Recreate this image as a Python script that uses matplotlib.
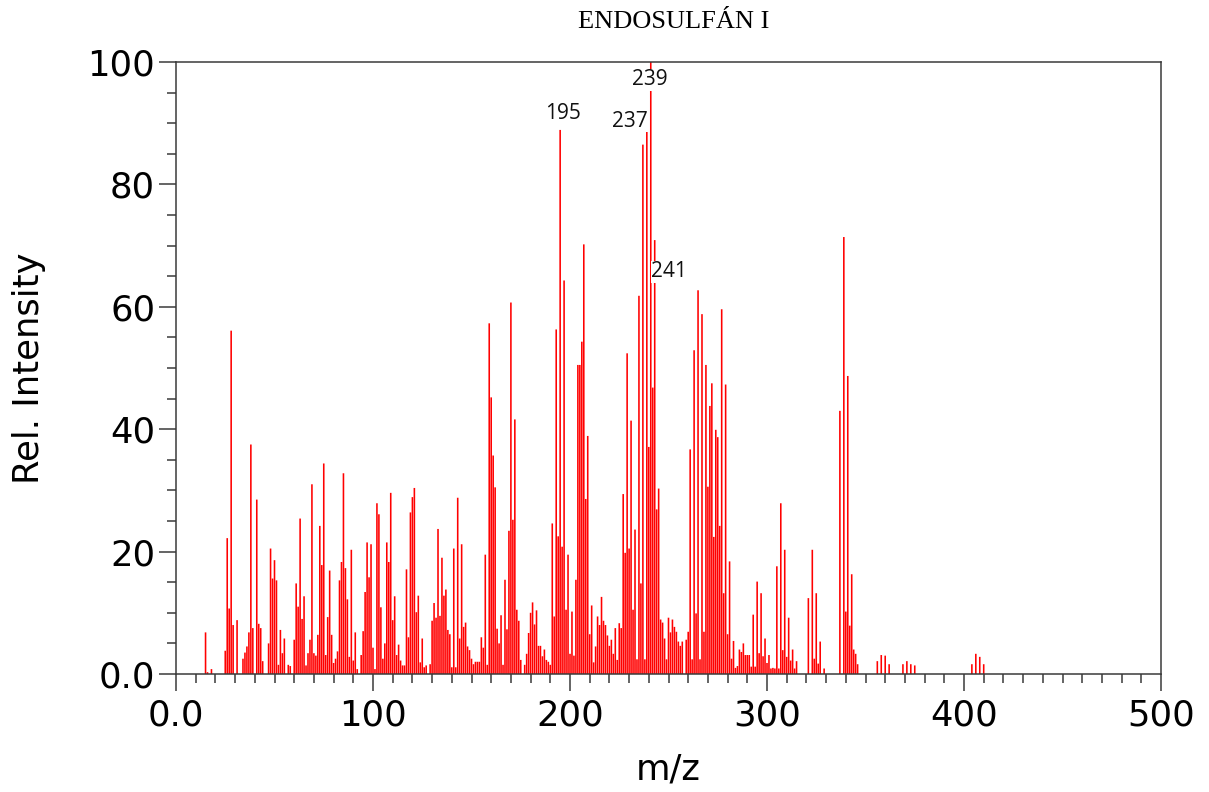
import matplotlib
matplotlib.use("Agg")
import matplotlib.pyplot as plt
from matplotlib.ticker import MultipleLocator

# spectrum (m/z, relative intensity)
mz = [15, 16, 18, 25, 26, 27, 28, 29, 31, 34, 35, 36, 37, 38, 39, 41, 42, 43, 44,
      47, 48, 49, 50, 51, 52, 53, 54, 55, 57, 58, 60, 61, 62, 63, 64, 65, 66, 67,
      68, 69, 70, 71, 72, 73, 74, 75, 76, 77, 78, 79, 80, 81, 82, 83, 84, 85, 86,
      87, 88, 89, 90, 91, 92, 94, 95, 96, 97, 98, 99, 100, 101, 102, 103, 104,
      105, 106, 107, 108, 109, 110, 111, 112, 113, 114, 115, 116, 117, 118, 119,
      120, 121, 122, 123, 124, 125, 126, 127, 129, 130, 131, 132, 133, 134, 135,
      136, 137, 138, 139, 140, 141, 142, 143, 144, 145, 146, 147, 148, 149, 150,
      151, 152, 153, 154, 155, 156, 157, 158, 159, 160, 161, 162, 163, 164, 165,
      166, 167, 168, 169, 170, 171, 172, 173, 174, 175, 177, 178, 179, 180, 181,
      182, 183, 184, 185, 186, 187, 188, 189, 190, 191, 192, 193, 194, 195, 196,
      197, 198, 199, 200, 201, 202, 203, 204, 205, 206, 207, 208, 209, 210, 211,
      212, 213, 214, 215, 216, 217, 218, 219, 220, 221, 222, 223, 224, 225, 226,
      227, 228, 229, 230, 231, 232, 233, 234, 235, 236, 237, 238, 239, 240, 241,
      242, 243, 244, 245, 246, 247, 248, 249, 250, 251, 252, 253, 254, 255, 256,
      257, 259, 260, 261, 262, 263, 264, 265, 266, 267, 268, 269, 270, 271, 272,
      273, 274, 275, 276, 277, 278, 279, 280, 281, 282, 283, 284, 285, 286, 287,
      288, 289, 290, 291, 292, 293, 294, 295, 296, 297, 298, 299, 300, 301, 302,
      303, 304, 305, 306, 307, 308, 309, 310, 311, 312, 313, 314, 315, 321, 323,
      324, 325, 326, 327, 329, 337, 339, 340, 341, 342, 343, 344, 345, 346, 356,
      358, 360, 362, 369, 371, 373, 375, 404, 406, 408, 410]

intensity = [6.8, 0.3, 0.8, 3.8, 22.2, 10.7, 56.1, 8.0, 8.8, 2.5, 3.5, 4.5, 6.8,
             37.5, 7.5, 28.5, 8.2, 7.5, 2.1, 5.0, 20.5, 15.6, 18.6, 15.3, 1.5, 7.2,
             3.4, 5.8, 1.5, 1.3, 5.6, 14.8, 11.0, 25.4, 9.0, 12.7, 1.4, 3.4, 5.6,
             31.0, 3.4, 3.0, 6.4, 24.2, 17.8, 34.4, 3.1, 9.3, 16.9, 6.4, 1.8, 2.5,
             3.7, 15.3, 18.3, 32.8, 17.3, 12.2, 2.8, 20.3, 2.2, 6.8, 0.8, 3.1, 7.0,
             13.4, 21.5, 15.8, 21.2, 4.3, 0.8, 27.9, 26.1, 10.9, 2.5, 5.0, 21.5,
             18.3, 29.6, 8.8, 12.7, 3.1, 4.8, 2.2, 1.4, 1.4, 17.1, 6.0, 26.4, 28.9,
             30.4, 10.1, 12.8, 1.9, 5.8, 1.1, 1.4, 1.6, 8.7, 11.6, 9.2, 23.7, 9.5,
             19.0, 12.8, 13.8, 7.2, 6.5, 1.1, 20.5, 1.1, 28.8, 5.8, 21.2, 7.7, 8.4,
             4.5, 3.9, 2.5, 1.6, 2.0, 2.0, 2.0, 6.0, 4.3, 19.5, 1.5, 57.3, 45.2,
             35.7, 30.5, 7.4, 5.0, 9.6, 1.5, 15.4, 7.3, 23.4, 60.7, 25.2, 41.6,
             10.5, 8.7, 2.3, 1.5, 3.3, 6.7, 10.0, 11.7, 8.1, 10.4, 4.6, 4.6, 2.9,
             4.0, 2.3, 2.0, 1.5, 24.6, 9.4, 56.3, 22.5, 88.9, 20.8, 64.3, 10.5,
             19.5, 3.3, 10.2, 3.0, 15.4, 50.5, 50.5, 54.3, 70.2, 28.6, 38.9, 6.5,
             11.2, 1.9, 4.5, 9.4, 8.0, 12.6, 8.7, 8.0, 6.3, 4.6, 5.6, 3.3, 7.5,
             2.3, 8.3, 7.5, 29.4, 19.8, 52.4, 20.5, 41.4, 10.5, 23.6, 2.4, 61.8,
             14.8, 86.5, 2.4, 88.7, 37.1, 100.0, 46.8, 70.9, 26.9, 30.3, 8.9, 8.4,
             5.8, 2.4, 9.2, 6.8, 8.9, 7.7, 6.9, 5.3, 4.6, 5.3, 5.6, 6.9, 36.7, 2.4,
             52.9, 9.9, 62.7, 2.4, 58.8, 6.9, 50.5, 30.6, 43.8, 47.5, 22.4, 39.9,
             38.7, 24.2, 59.6, 13.2, 47.3, 6.5, 18.4, 2.5, 5.4, 1.0, 1.3, 4.0, 3.6,
             5.0, 3.1, 3.1, 3.1, 1.2, 9.7, 1.2, 15.1, 3.4, 13.2, 2.9, 5.8, 1.8,
             3.1, 0.9, 1.0, 0.9, 17.6, 0.9, 27.9, 3.9, 20.3, 2.8, 9.2, 2.2, 4.0,
             0.9, 2.1, 12.4, 20.3, 2.5, 13.2, 1.7, 5.3, 0.9, 43.0, 71.4, 10.2, 48.7,
             7.9, 16.3, 4.0, 3.3, 1.6, 2.1, 3.1, 3.0, 1.6, 1.6, 2.1, 1.6, 1.4, 1.6,
             3.3, 2.8, 1.6]

peak_labels = ["195", "237", "239", "241"]

x_ticks = [0, 100, 200, 300, 400, 500]
x_ticklabels = ["0.0", "100", "200", "300", "400", "500"]
y_ticks = [0, 20, 40, 60, 80, 100]
y_ticklabels = ["0.0", "20", "40", "60", "80", "100"]

title = "ENDOSULFÁN I"

W, H = 1209, 792
fig = plt.figure(figsize=(W / 100, H / 100), dpi=100)
ax = fig.add_axes([176 / W, 1 - 674 / H, (1161 - 176) / W, (674 - 62) / H])

# stick spectrum, left unsnapped so the sticks get soft edges like the original
sticks = ax.vlines(mz, 0, intensity, colors="#ff0000", linewidth=1.15, zorder=2)
sticks.set_snap(False)

ax.set_xlim(0, 500)
ax.set_ylim(0, 100)

# labels sit where the original software put them
label_pos = [(196.2, 91.6), (230.2, 90.3), (240.4, 97.1), (250.4, 65.7)]
for lab, (lx, ly) in zip(peak_labels, label_pos):
    ax.text(lx, ly, lab, ha="center", va="center", fontsize=15,
            family="Open Sans", color="#111111", zorder=5,
            bbox=dict(facecolor="white", edgecolor="none", pad=0.5))

axis_col = "#3a3a3a"
for sp in ax.spines.values():
    sp.set_color(axis_col)
    sp.set_linewidth(1.1)

ax.set_xticks(x_ticks)
ax.set_xticklabels(x_ticklabels)
ax.set_yticks(y_ticks)
ax.set_yticklabels(y_ticklabels)
ax.xaxis.set_minor_locator(MultipleLocator(10))
ax.yaxis.set_minor_locator(MultipleLocator(5))
ax.tick_params(which="major", direction="out", length=12, width=1.1,
               color=axis_col, labelsize=25.5, pad=6, top=False, right=False)
ax.tick_params(which="minor", direction="out", length=6.5, width=1.1,
               color=axis_col, top=False, right=False)
ax.tick_params(axis="y", which="major", pad=3)

ax.set_xlabel("m/z", fontsize=25.5, labelpad=14)
ax.set_ylabel("Rel. Intensity", fontsize=25.5, labelpad=30)

fig.text(674 / W, 1 - 22 / H, title, ha="center", va="center",
         family="Liberation Serif", fontsize=19)

fig.savefig("out.png", dpi=100)
